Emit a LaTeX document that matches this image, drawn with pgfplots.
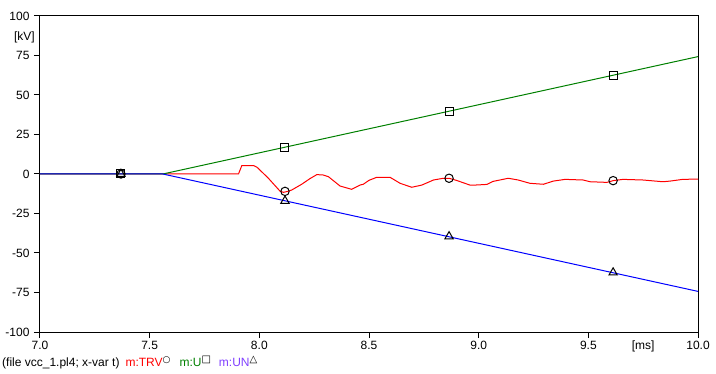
\documentclass[border=0pt]{standalone}
\usepackage{fontspec}
\setmainfont{Liberation Sans}
\newfontfamily\symfont{DejaVu Sans}
\usepackage{pgfplots}
\pgfplotsset{compat=1.18}
\definecolor{trvred}{RGB}{255,0,0}
\definecolor{ugreen}{RGB}{0,128,0}
\definecolor{unblue}{RGB}{0,0,255}
\definecolor{untext}{RGB}{128,64,255}
\begin{document}
\begin{tikzpicture}
\begin{axis}[
  scale only axis, width=658pt, height=316pt,
  xmin=7, xmax=10, ymin=-100, ymax=100,
  xtick={7,7.5,8,8.5,9,9.5,10},
  ytick={-100,-75,-50,-25,0,25,50,75,100},
  tick align=outside, xtick pos=lower, ytick pos=left,
  major tick length=6pt,
  axis line style={line width=1pt, black},
  every tick/.style={black, line width=1pt},
  tick label style={font=\fontsize{12}{14}\selectfont},
  yticklabel style={xshift=-1pt},
  /pgf/number format/assume math mode=true,
  xticklabel style={/pgf/number format/.cd, fixed, fixed zerofill, precision=1},
  yticklabel style={/pgf/number format/.cd, fixed, precision=0},
  clip=false,
]
% TRV
\addplot[trvred, line width=1pt, mark=none] coordinates {
(7.0,0) (7.905,0) (7.92,5.3) (7.974,5.3) (7.99,4.2) (8.04,-2.5) (8.094,-10.8)
(8.11,-11.6) (8.13,-11.0) (8.148,-10.1) (8.193,-6.5) (8.23,-3) (8.262,-0.4)
(8.29,-0.6) (8.315,-1.7) (8.368,-7.6) (8.421,-9.7) (8.459,-7.0) (8.474,-6.5)
(8.50,-4) (8.535,-2.1) (8.596,-2.1) (8.642,-5.9) (8.695,-8.4) (8.741,-7.0)
(8.794,-3.8) (8.839,-2.7) (8.865,-2.7) (8.90,-4.1) (8.96,-7.0) (8.984,-7.0)
(9.037,-6.6) (9.065,-4.7) (9.135,-2.7) (9.18,-3.8) (9.234,-5.9) (9.295,-6.5)
(9.34,-4.5) (9.394,-3.4) (9.476,-3.8) (9.508,-4.9) (9.585,-5.3) (9.613,-4.2)
(9.658,-3.4) (9.749,-3.8) (9.84,-4.9) (9.872,-4.5) (9.93,-3.4) (10.0,-3.2)
};
% U
\addplot[ugreen, line width=1pt, mark=none] coordinates {
(7.0,0) (7.56,0) (10.0,74.3)
};
% UN
\addplot[unblue, line width=1pt, mark=none] coordinates {
(7.0,0) (7.56,0) (10.0,-74.3)
};
% markers
\addplot[only marks, mark=o, mark size=4.2pt, mark options={black, line width=1pt}] coordinates {
(7.369,0) (8.117,-11) (8.865,-2.7) (9.613,-4.2)
};
\addplot[only marks, mark=square, mark size=4pt, mark options={black, line width=1pt}] coordinates {
(7.369,0) (8.117,16.9) (8.865,39.5) (9.613,62.4)
};
\addplot[only marks, mark=triangle, mark size=4.8pt, mark options={black, line width=1pt}] coordinates {
(7.369,0) (8.117,-17) (8.865,-39.5) (9.613,-62.4)
};
\node[anchor=east, inner sep=0pt, font=\fontsize{12}{14}\selectfont] at ([xshift=-5pt,yshift=-21pt]axis cs:7,100) {[kV]};
\node[anchor=base, inner sep=0pt, font=\fontsize{12}{14}\selectfont] at ([yshift=-17pt]axis cs:9.75,-100) {[ms]};
\node[anchor=base west, inner sep=0pt, font=\fontsize{12}{14}\selectfont] at ([xshift=-38pt,yshift=-34pt]axis cs:7,-100)
  {(file vcc\_1.pl4; x-var t)\hspace{6pt}\textcolor{trvred}{m:TRV}\raisebox{3.5pt}{\symfont\fontsize{9}{9}\selectfont ○}\hspace{9pt}\textcolor{ugreen}{m:U}\raisebox{3.5pt}{\symfont\fontsize{10}{10}\selectfont □}\hspace{8pt}\textcolor{untext}{m:UN}\raisebox{3.5pt}{\symfont\fontsize{10}{10}\selectfont △}};
\path ([xshift=-40pt,yshift=-42pt]rel axis cs:0,0) rectangle ([xshift=18pt,yshift=16pt]rel axis cs:1,1);
\end{axis}
\end{tikzpicture}
\end{document}
